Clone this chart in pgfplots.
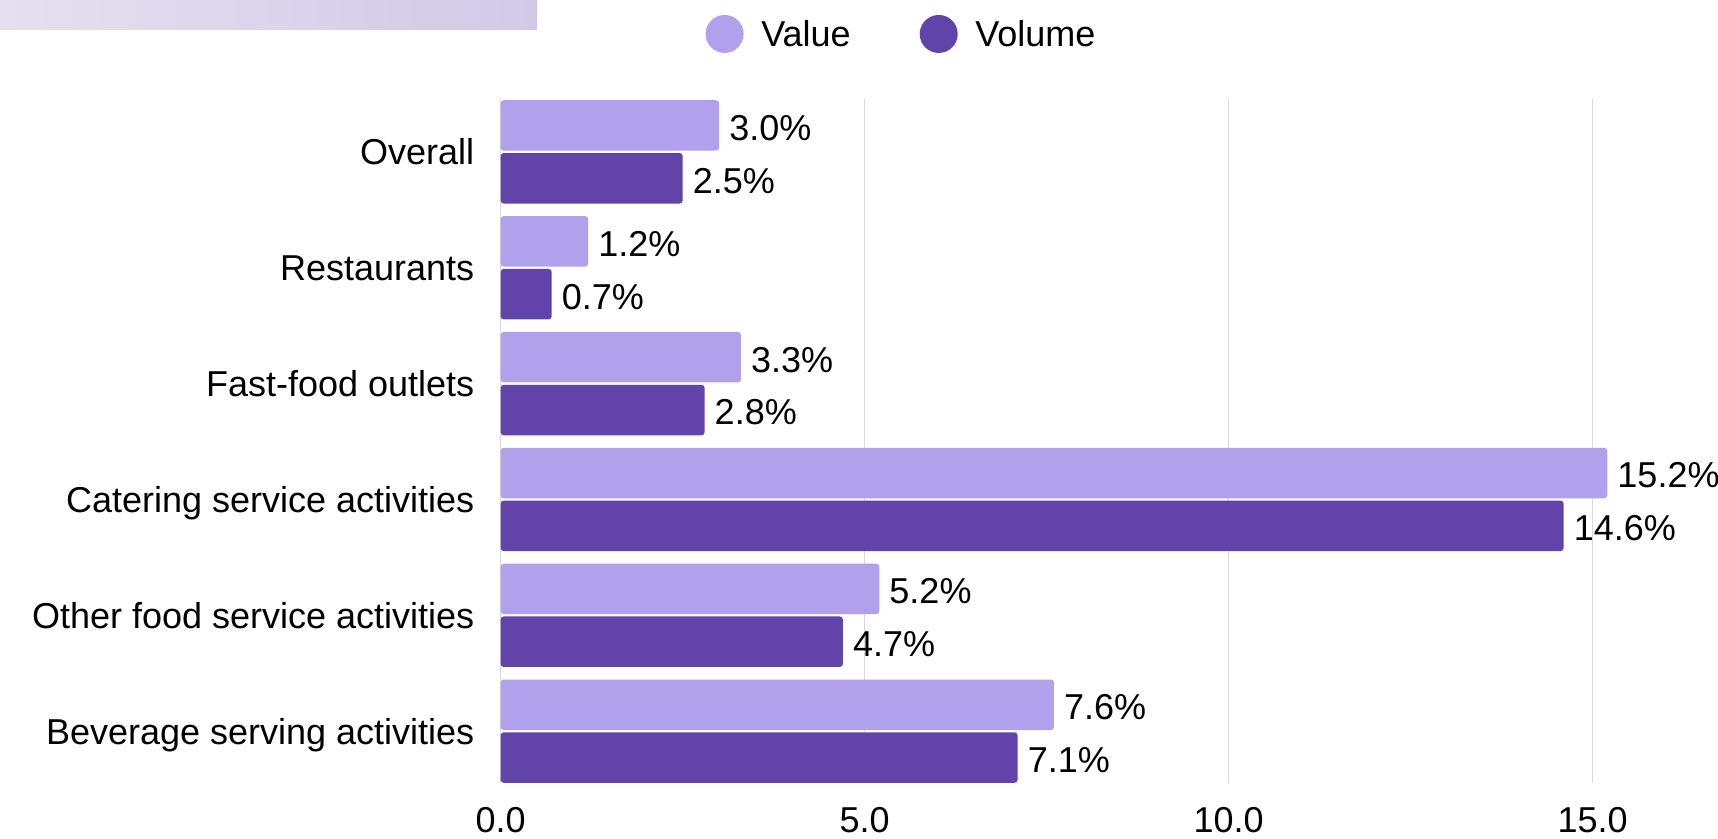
\documentclass[border=0pt]{standalone}
\usepackage{pgfplots}
\pgfplotsset{compat=1.18}
\usepackage{fontspec}
\setmainfont{Liberation Sans}
\definecolor{cval}{HTML}{B1A1EC}
\definecolor{cvol}{HTML}{6243AA}
\definecolor{gridc}{HTML}{D9D9D9}
\newcommand{\bigf}{\fontsize{36}{43}\selectfont}
\begin{document}
\begin{tikzpicture}[x=1pt,y=1pt]
\path (0,0) rectangle (1718,838);
\shade[left color={rgb,255:red,229;green,224;blue,239}, middle color={rgb,255:red,240;green,238;blue,246}, right color={rgb,255:red,210;green,201;blue,231}] (0,808) rectangle (537,838);
\begin{axis}[
  at={(500.7pt,54.7pt)}, anchor=south west,
  scale only axis, width=1201.2pt, height=684pt,
  xbar, bar width=50.5pt,
  xmin=0, xmax=16.5, ymin=-0.454, ymax=5.45, y dir=reverse,
  ytick={0,...,5},
  yticklabels={Overall,Restaurants,Fast-food outlets,Catering service activities,Other food service activities,Beverage serving activities},
  xtick={0,5,10,15},
  xmajorgrids, grid style={gridc, line width=1.2pt},
  axis line style={draw=none}, major tick style={draw=none},
  /pgf/number format/assume math mode=true,
  xticklabel={\pgfmathprintnumber[fixed,fixed zerofill,precision=1]{\tick}},
  font=\bigf,
  tick label style={font=\bigf},
  xticklabel style={anchor=north, inner sep=0pt, yshift=-23.4pt},
  yticklabel style={anchor=base east, inner sep=0pt, xshift=-22pt, yshift=-13pt},
  point meta=x,
  nodes near coords={\pgfmathprintnumber[fixed,fixed zerofill,precision=1]{\pgfplotspointmeta}\%},
  nodes near coords style={anchor=west, inner sep=0pt, xshift=10pt, yshift=-2.5pt, font=\bigf, text=black},
  legend style={at={(0.1706,1.0955)}, anchor=west, draw=none, fill=none, legend columns=2, inner sep=0pt, outer sep=0pt, font=\bigf, nodes={inner sep=0pt},
    /tikz/every odd column/.append style={column sep=17.7pt},
    /tikz/every even column/.append style={column sep=69pt}},
  legend cell align=left,
]
\addplot[fill=cval, draw=none, rounded corners=3pt, bar shift=26.4pt,
  legend image code/.code={\fill[cval] (19pt,0pt) circle (19pt);}]
  coordinates {(3.0,0) (1.2,1) (3.3,2) (15.2,3) (5.2,4) (7.6,5)};
\addplot[fill=cvol, draw=none, rounded corners=3pt, bar shift=-26.4pt,
  legend image code/.code={\fill[cvol] (19pt,0pt) circle (19pt);}]
  coordinates {(2.5,0) (0.7,1) (2.8,2) (14.6,3) (4.7,4) (7.1,5)};
\legend{Value,Volume}
\end{axis}
\pgfresetboundingbox
\useasboundingbox (0,0) rectangle (1718,838);
\end{tikzpicture}
\end{document}
